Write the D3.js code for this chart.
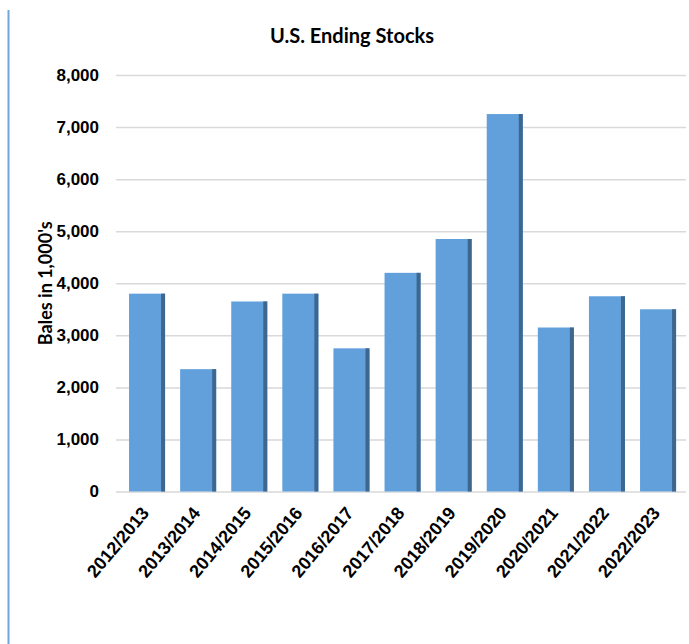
<!DOCTYPE html>
<html>
<head>
<meta charset="utf-8">
<script src="https://cdn.jsdelivr.net/npm/d3@7"></script>
<style>
  body { margin: 0; background: #fff; }
  svg { display: block; font-family: Lato, "Open Sans", sans-serif; }
  .grid line { stroke: #d9d9d9; stroke-width: 1.5; }
  .grid .domain { display: none; }
  .yaxis text, .xaxis text { font-weight: bold; fill: #000; }
</style>
</head>
<body>
<svg width="689" height="644"></svg>
<script>
var width = 689,
    height = 644;

// marketing years
var seasons = ["2012/2013", "2013/2014", "2014/2015", "2015/2016", "2016/2017",
               "2017/2018", "2018/2019", "2019/2020", "2020/2021", "2021/2022", "2022/2023"];
// ending stocks, 1,000 bales
var stocks = [3800, 2350, 3650, 3800, 2750, 4200, 4850, 7250, 3150, 3750, 3500];
var yTicks = [0, 1000, 2000, 3000, 4000, 5000, 6000, 7000, 8000];

var barColor = "#62a0dc",
    sideColor = "#3e6790";

var svg = d3.select("svg");

// thin blue rule down the left side
svg.append("line")
   .attr("x1", 8.5).attr("x2", 8.5)
   .attr("y1", 10).attr("y2", height)
   .attr("stroke", "#6fa6dc")
   .attr("stroke-width", 2);

var plotLeft = 116, plotRight = 686;

var x = d3.scaleBand()
          .domain(seasons)
          .range([121.5, 683.6])
          .paddingInner(0.295)
          .paddingOuter(0.1475);

var y = d3.scaleLinear()
          .domain([0, 8000])
          .range([491.5, 75]);

// gridlines (zero line included)
svg.append("g")
   .attr("class", "grid")
   .attr("transform", "translate(" + plotLeft + ",0)")
   .call(d3.axisLeft(y).tickValues(yTicks).tickSize(-(plotRight - plotLeft)).tickFormat(""));

// y labels
svg.append("g")
   .attr("class", "yaxis")
   .attr("transform", "translate(" + plotLeft + ",0)")
   .call(d3.axisLeft(y).tickValues(yTicks).tickFormat(d3.format(",")).tickSize(0).tickPadding(17))
   .call(function(g) { g.select(".domain").remove(); })
   .selectAll("text")
   .style("font-size", "17px");

// bars
var bars = svg.append("g").attr("class", "bars")
   .selectAll("g")
   .data(seasons)
   .enter().append("g");

bars.append("rect")
    .attr("x", function(d) { return x(d); })
    .attr("y", function(d, i) { return y(stocks[i]); })
    .attr("width", x.bandwidth())
    .attr("height", function(d, i) { return y(0) - y(stocks[i]); })
    .attr("fill", barColor);

// darker right side for the bevel look
bars.append("rect")
    .attr("x", function(d) { return x(d) + x.bandwidth() - 4; })
    .attr("y", function(d, i) { return y(stocks[i]); })
    .attr("width", 4)
    .attr("height", function(d, i) { return y(0) - y(stocks[i]); })
    .attr("fill", sideColor);

// x labels, slanted
svg.append("g")
   .attr("class", "xaxis")
   .attr("transform", "translate(0," + y(0) + ")")
   .call(d3.axisBottom(x).tickSize(0).tickPadding(0))
   .call(function(g) { g.select(".domain").remove(); })
   .selectAll("text")
   .style("font-size", "18px")
   .attr("text-anchor", "end")
   .attr("dy", null)
   .attr("transform", "translate(3,22) rotate(-50)");

// title
svg.append("text")
   .attr("x", 352)
   .attr("y", 43)
   .attr("text-anchor", "middle")
   .style("font-size", "20px")
   .style("font-weight", "bold")
   .text("U.S. Ending Stocks");

// y axis title
svg.append("text")
   .attr("transform", "translate(52," + ((y(0) + y(8000)) / 2) + ") rotate(-90)")
   .attr("text-anchor", "middle")
   .style("font-size", "18px")
   .style("font-weight", "bold")
   .text("Bales in 1,000's");
</script>
</body>
</html>
